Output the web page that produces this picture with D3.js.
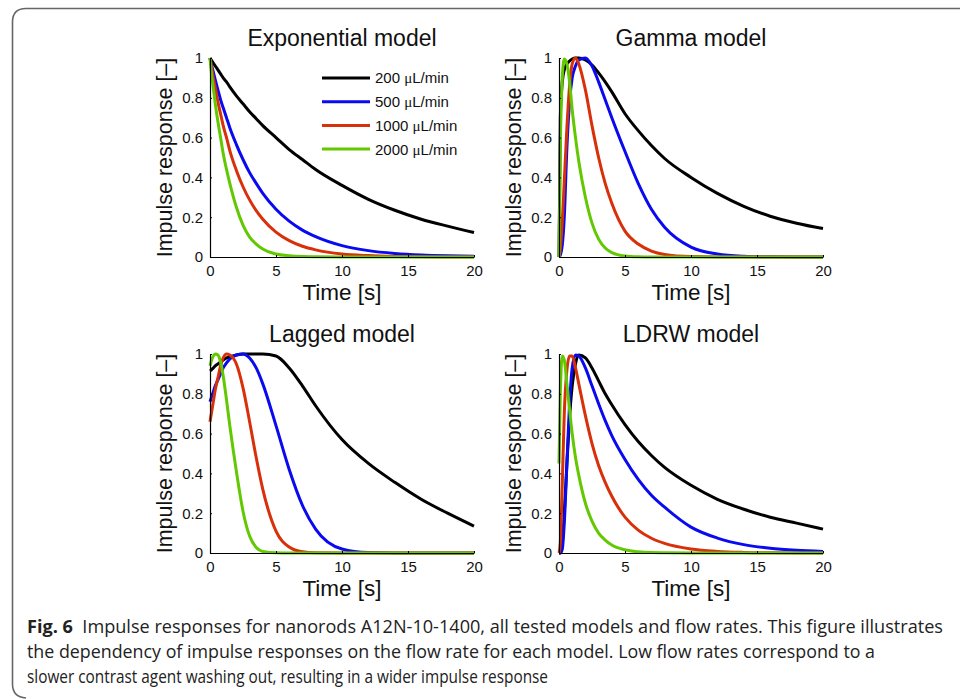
<!DOCTYPE html>
<html>
<head>
<meta charset="utf-8">
<script src="https://cdn.jsdelivr.net/npm/d3@7"></script>
<style>
  body { margin: 0; background: #fff; }
</style>
</head>
<body>
<div id="fig"></div>
<script>
// time samples (s), shared by every curve
const time = [0, 0.1, 0.25, 0.4, 0.6, 0.8, 1, 1.25, 1.5, 2, 2.5, 3, 3.5, 4, 5, 6, 7, 8, 10, 12, 14, 16, 18, 20];

const flowRates = ["200 \u03bcL/min", "500 \u03bcL/min", "1000 \u03bcL/min", "2000 \u03bcL/min"];
const colors = ["#000000", "#0a0af0", "#d8300a", "#62c800"];

// Exponential model
const exp200  = [1, .99, .975, .96, .94, .92, .90, .88, .855, .81, .77, .73, .695, .66, .60, .54, .49, .44, .36, .29, .235, .19, .155, .123];
const exp500  = [1, .97, .93, .89, .84, .79, .75, .70, .65, .565, .49, .424, .37, .32, .24, .18, .135, .102, .057, .032, .018, .01, .006, .004];
const exp1000 = [1, .96, .90, .85, .78, .72, .66, .60, .535, .435, .353, .287, .233, .19, .125, .082, .054, .036, .015, .007, .003, .001, .0005, .0002];
const exp2000 = [1, .93, .85, .77, .68, .60, .52, .44, .37, .25, .16, .10, .065, .04, .015, .006, .002, .001, 0, 0, 0, 0, 0, 0];

// Gamma model
const gam200  = [0, .70, .88, .94, .97, .985, .995, 1, 1, .99, .965, .925, .88, .83, .72, .635, .56, .495, .40, .32, .255, .205, .17, .143];
const gam500  = [0, .01, .06, .20, .55, .78, .90, .96, .99, 1, .96, .88, .79, .70, .53, .37, .24, .15, .05, .015, .004, .001, 0, 0];
const gam1000 = [0, .04, .18, .38, .65, .86, .97, 1, .97, .84, .66, .50, .37, .27, .13, .065, .03, .013, .002, 0, 0, 0, 0, 0];
const gam2000 = [0, .55, .90, .995, .97, .88, .74, .60, .48, .30, .17, .09, .045, .022, .005, .001, 0, 0, 0, 0, 0, 0, 0, 0];

// Lagged model
const lag200  = [.915, .92, .93, .94, .95, .96, .97, .98, .985, .995, 1, 1, 1, 1, .99, .93, .84, .74, .57, .45, .355, .27, .20, .135];
const lag500  = [.76, .78, .81, .84, .87, .90, .93, .955, .975, .995, 1, .98, .93, .85, .64, .42, .24, .12, .02, .002, 0, 0, 0, 0];
const lag1000 = [.66, .70, .76, .82, .88, .94, .98, 1, .995, .95, .83, .66, .48, .32, .11, .03, .006, .001, 0, 0, 0, 0, 0, 0];
const lag2000 = [.94, .965, .99, 1, .995, .96, .89, .77, .64, .41, .21, .085, .028, .008, .001, 0, 0, 0, 0, 0, 0, 0, 0, 0];

// LDRW model
const ldrw200  = [0, 0, .05, .20, .45, .68, .84, .95, .995, .98, .93, .865, .80, .745, .645, .56, .49, .43, .34, .27, .22, .18, .15, .12];
const ldrw500  = [0, 0, .02, .15, .45, .75, .93, .995, .99, .93, .84, .75, .665, .59, .47, .37, .29, .23, .13, .075, .042, .024, .014, .008];
const ldrw1000 = [0, .05, .35, .70, .92, .99, .99, .93, .85, .69, .55, .44, .355, .285, .18, .115, .074, .048, .02, .008, .003, .001, 0, 0];
const ldrw2000 = [.45, .80, .99, .97, .85, .72, .60, .48, .39, .25, .16, .10, .065, .04, .016, .006, .002, .001, 0, 0, 0, 0, 0, 0];

const xTicks = [0, 5, 10, 15, 20];
const yTicks = [0, 0.2, 0.4, 0.6, 0.8, 1];

const captionLines = [
  "Impulse responses for nanorods A12N-10-1400, all tested models and flow rates. This figure illustrates",
  "the dependency of impulse responses on the flow rate for each model. Low flow rates correspond to a",
  "slower contrast agent washing out, resulting in a wider impulse response"
];

const panels = [
  {title: "Exponential model", x: 210, y: 58,  series: [exp200, exp500, exp1000, exp2000], legend: true},
  {title: "Gamma model",       x: 559, y: 58,  series: [gam200, gam500, gam1000, gam2000]},
  {title: "Lagged model",      x: 210, y: 354, series: [lag200, lag500, lag1000, lag2000]},
  {title: "LDRW model",        x: 559, y: 354, series: [ldrw200, ldrw500, ldrw1000, ldrw2000]}
];

const width = 960, height = 699;
const pw = 264, ph = 199;
const plotFont = "'Liberation Sans', Arimo, Roboto, Helvetica, Arial, sans-serif";

const svg = d3.select("#fig").append("svg")
    .attr("width", width)
    .attr("height", height);

// frame with rounded corners (left/top)
svg.append("path")
    .attr("d", "M960,8.5 L26,8.5 Q12.5,8.5 12.5,22 L12.5,684 Q12.5,697 26,698")
    .attr("fill", "none")
    .attr("stroke", "#666")
    .attr("stroke-width", 1.6);

const x = d3.scaleLinear().domain([0, 20]).range([0, pw]);
const y = d3.scaleLinear().domain([0, 1]).range([ph, 0]);

const line = d3.line()
    .x((d, i) => x(time[i]))
    .y(d => y(d))
    .curve(d3.curveMonotoneX);

panels.forEach(p => {
    const g = svg.append("g").attr("transform", `translate(${p.x},${p.y})`);

    g.selectAll("path.curve")
        .data(p.series)
        .join("path")
            .attr("class", "curve")
            .attr("d", line)
            .attr("fill", "none")
            .attr("stroke", (d, i) => colors[i])
            .attr("stroke-width", 3)
            .attr("stroke-linejoin", "round");

    const xAxis = g.append("g")
        .attr("transform", `translate(0,${ph})`)
        .call(d3.axisBottom(x).tickValues(xTicks).tickSizeInner(-2).tickSizeOuter(0).tickPadding(6).tickFormat(d3.format("d")));
    const yAxis = g.append("g")
        .call(d3.axisLeft(y).tickValues(yTicks).tickSizeInner(-2).tickSizeOuter(0).tickPadding(7).tickFormat(d => String(+d.toFixed(1))));

    [xAxis, yAxis].forEach(a => {
        a.select(".domain").attr("stroke", "#000").attr("stroke-width", 1.2);
        a.selectAll(".tick line").attr("stroke", "#000");
        a.selectAll(".tick text")
            .style("font-family", plotFont)
            .style("font-size", "15px")
            .attr("fill", "#111");
    });
    xAxis.selectAll(".tick text").attr("dy", "0.85em");

    g.append("text")
        .attr("x", pw / 2)
        .attr("y", -12)
        .attr("text-anchor", "middle")
        .style("font-family", plotFont)
        .style("font-size", "23px")
        .attr("fill", "#111")
        .text(p.title);

    g.append("text")
        .attr("x", pw / 2)
        .attr("y", ph + 43)
        .attr("text-anchor", "middle")
        .style("font-family", plotFont)
        .style("font-size", "22.5px")
        .attr("fill", "#111")
        .text("Time [s]");

    g.append("text")
        .attr("transform", `translate(-38,${ph / 2}) rotate(-90)`)
        .attr("text-anchor", "middle")
        .style("font-family", plotFont)
        .style("font-size", "21.5px")
        .attr("fill", "#111")
        .text("Impulse response [\u2013]");

    if (p.legend) {
        const leg = g.selectAll("g.leg")
            .data(flowRates)
            .join("g")
                .attr("class", "leg")
                .attr("transform", (d, i) => `translate(112,${20 + i * 23.7})`);
        leg.append("line")
            .attr("x1", 0).attr("x2", 48)
            .attr("stroke", (d, i) => colors[i])
            .attr("stroke-width", 3);
        const t = leg.append("text")
            .attr("x", 53)
            .attr("dy", "0.36em")
            .style("font-family", plotFont)
            .style("font-size", "15px")
            .attr("fill", "#111");
        t.append("tspan").text(d => d.split(" ")[0] + " ");
        t.append("tspan").style("font-family", "'Liberation Serif', 'DejaVu Serif', serif").text("\u03bc");
        t.append("tspan").text(d => d.split(" ")[1].slice(1));
    }
});

// caption
const capWidths = [916, 848, 521];
captionLines.forEach((s, i) => {
    const t = svg.append("text")
        .attr("x", 27)
        .attr("y", 633 + i * 25)
        .attr("textLength", capWidths[i])
        .attr("lengthAdjust", "spacingAndGlyphs")
        .style("font-family", "'Liberation Sans Narrow', 'Open Sans', sans-serif")
        .style("font-size", "18px")
        .attr("fill", "#222");
    if (i === 0) {
        t.append("tspan").style("font-weight", "bold").text("Fig. 6");
        t.append("tspan").text("\u00a0\u00a0" + s);
    } else {
        t.text(s);
    }
});
</script>
</body>
</html>
